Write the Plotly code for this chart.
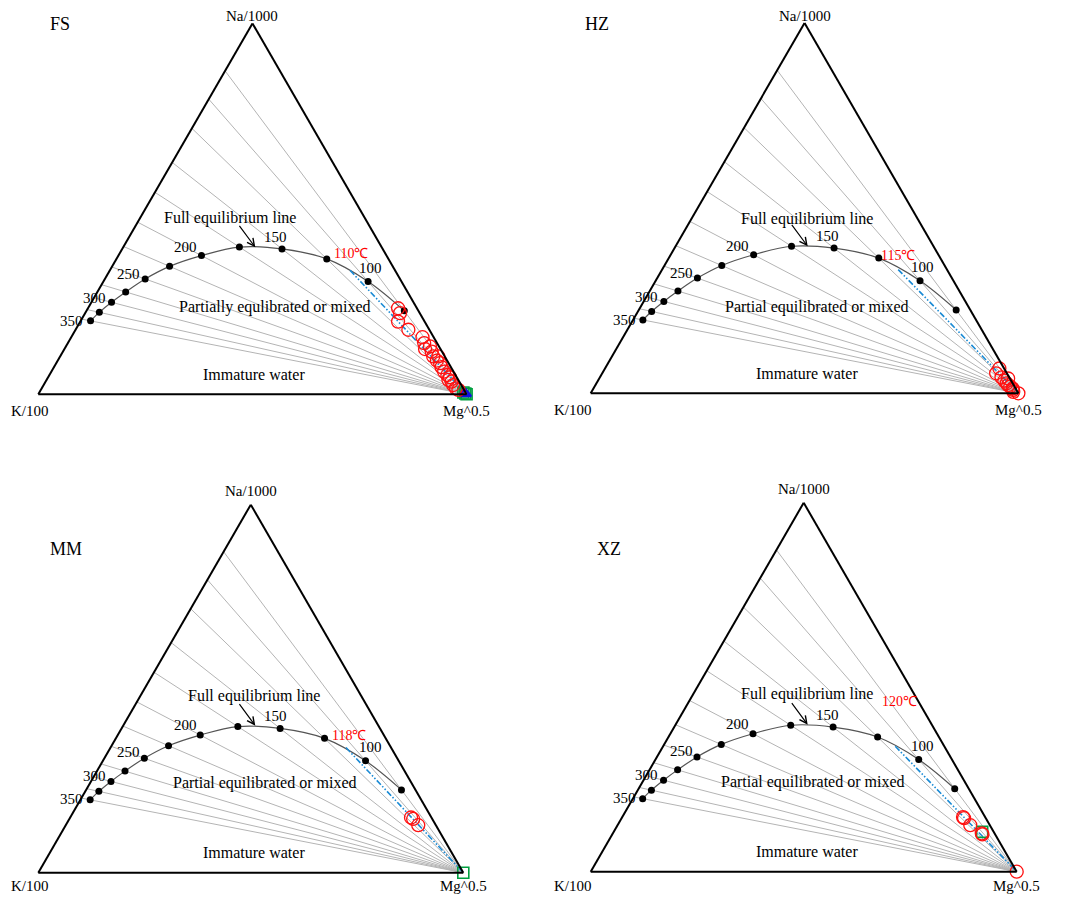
import plotly.graph_objects as go

# the page body adds an 8px margin, so the figure is drawn inside that
OFF = 8
FIG_W, FIG_H = 1065 - 2 * OFF, 904 - 2 * OFF

# full equilibrium points, % of (Na/1000, K/100, Mg^0.5)
eq_na = [19.8, 22.1, 24.8, 27.6, 31.1, 34.5, 37.4, 39.7, 39.2, 36.5, 30.4, 22.5]
eq_k = [77.9, 74.7, 70.5, 65.8, 59.5, 52.1, 43.2, 33.2, 23.5, 14.4, 7.8, 3.3]
eq_mg = [2.3, 3.2, 4.7, 6.6, 9.4, 13.4, 19.4, 27.1, 37.3, 49.1, 61.8, 74.2]
temp_ticks = ["350", "300", "250", "200", "150", "100"]

panels = ["FS", "HZ", "MM", "XZ"]
mixed_text = ["Partially equlibrated or mixed", "Partial equilibrated or mixed",
              "Partial equilibrated or mixed", "Partial equilibrated or mixed"]
temp_text = ["110℃", "115℃", "118℃", "120℃"]

# start of the mixing line on the equilibrium curve (Na, Mg)
mix_na = [33.4, 33.4, 34.0, 34.0]
mix_mg = [56.1, 55.2, 55.4, 54.5]

# samples (Na, Mg); K is the remainder
fs_na = [23.2, 21.9, 19.6, 17.4, 15.4, 13.8, 12.2, 11.5, 10.2, 9.1, 8.4, 7.3, 6.1,
         5.2, 4.6, 3.4, 2.5, 1.6, 1.2, 12.9, 10.2, 3.9]
fs_mg = [72.4, 73.5, 74.2, 77.7, 82.0, 83.2, 84.2, 86.1, 87.1, 88.5, 89.6, 90.5, 91.7,
         92.9, 93.8, 94.8, 95.6, 96.7, 97.5, 85.0, 88.3, 93.8]
fs_sq_na = [0.5, 0.2, 0.0]
fs_sq_mg = [99.0, 99.6, 100.0]
fs_tri_na = [0.4, 0.1]
fs_tri_mg = [99.3, 99.8]

hz_na = [6.7, 5.4, 4.3, 4.0, 2.7, 1.8, 0.9, 0.4, 0.0, 2.2, 1.3, 3.4]
hz_mg = [92.2, 92.1, 93.9, 95.6, 95.9, 97.2, 98.3, 98.6, 100.0, 96.5, 98.0, 95.0]

mm_na = [15.0, 14.6, 12.9]
mm_mg = [80.2, 80.9, 82.95]
mm_sq_na = [0.0]
mm_sq_mg = [100.0]

xz_na = [14.5, 14.8, 12.6, 10.1, 10.4, 0.0]
xz_mg = [80.4, 80.0, 82.8, 86.9, 86.6, 100.0]
xz_sq_na = [10.8]
xz_sq_mg = [86.5]

circles = [(fs_na, fs_mg), (hz_na, hz_mg), (mm_na, mm_mg), (xz_na, xz_mg)]
squares = [(fs_sq_na, fs_sq_mg), None, (mm_sq_na, mm_sq_mg), (xz_sq_na, xz_sq_mg)]
triangles = [(fs_tri_na, fs_tri_mg), None, None, None]

# triangle placement in window pixels: K vertex x, baseline y, side length
geom = [(38.3, 394.3, 428.3), (590.7, 393.3, 427.7),
        (38.3, 872.7, 425.0), (590.7, 871.7, 426.0)]
name_pos = [(60, 24), (596.7, 24), (65.7, 549), (609, 549)]
full_pos = [(192, -176), (216, -174), (216, -177), (216, -178)]
mixed_pos = [(236.7, -87.3), (226, -86.6), (226.7, -90), (222, -90)]
temp_pos = [(312.7, -140.3), (307.6, -138), (310.7, -137.4), (309, -170)]
tick_pos = [(33.4, -73.3), (56, -96.6), (90.4, -120.3), (147, -147.6), (237, -157), (331.7, -126)]

FONT = "Liberation Serif"


def px_x(x):
    return (x - OFF) / FIG_W


def px_y(y):
    return 1 - (y - OFF) / FIG_H


def k_of(na, mg):
    return [round(100 - a - c, 3) for a, c in zip(na, mg)]


fig = go.Figure()
annotations = []

for i, name in enumerate(panels):
    sub = "ternary" if i == 0 else "ternary%d" % (i + 1)
    x0, yb, w = geom[i]
    h = w * 3 ** 0.5 / 2

    def note(dx, dy, text, size=15, color="black", xanchor="center"):
        annotations.append(dict(
            x=px_x(x0 + dx), y=px_y(yb + dy), xref="paper", yref="paper",
            text=text, showarrow=False, xanchor=xanchor, yanchor="middle",
            font=dict(family=FONT, size=size, color=color)))

    # Na/K isotherms from the Mg corner through each equilibrium point
    ra, rb, rc = [], [], []
    for a, b in zip(eq_na, eq_k):
        ra += [0, a / (a + b) * 100, None]
        rb += [0, b / (a + b) * 100, None]
        rc += [100, 0, None]
    fig.add_trace(go.Scatterternary(a=ra, b=rb, c=rc, mode="lines", subplot=sub,
                                    line=dict(color="#b4b4b4", width=1), showlegend=False,
                                    hoverinfo="skip"))

    # full equilibrium line
    fig.add_trace(go.Scatterternary(a=eq_na, b=eq_k, c=eq_mg, mode="lines+markers", subplot=sub,
                                    line=dict(color="#555555", width=1.2, shape="spline"),
                                    marker=dict(color="black", size=7), showlegend=False,
                                    cliponaxis=False))

    # mixing line
    fig.add_trace(go.Scatterternary(a=[mix_na[i], 0], b=k_of([mix_na[i], 0], [mix_mg[i], 100]),
                                    c=[mix_mg[i], 100], mode="lines", subplot=sub,
                                    line=dict(color="#1a8ad4", width=1.6,
                                              dash="6px,2px,1.5px,2px,1.5px,2px"),
                                    showlegend=False))

    if squares[i]:
        na, mg = squares[i]
        fig.add_trace(go.Scatterternary(a=na, b=k_of(na, mg), c=mg, mode="markers", subplot=sub,
                                        marker=dict(symbol="square-open", size=11, color="#00a040",
                                                    line=dict(width=1.6)),
                                        showlegend=False, cliponaxis=False))
    if triangles[i]:
        na, mg = triangles[i]
        fig.add_trace(go.Scatterternary(a=na, b=k_of(na, mg), c=mg, mode="markers", subplot=sub,
                                        marker=dict(symbol="triangle-up-open", size=9, color="#1010e0",
                                                    line=dict(width=2)),
                                        showlegend=False, cliponaxis=False))

    na, mg = circles[i]
    fig.add_trace(go.Scatterternary(a=na, b=k_of(na, mg), c=mg, mode="markers", subplot=sub,
                                    marker=dict(symbol="circle-open", size=13, color="#ff1010",
                                                line=dict(width=1.3)),
                                    showlegend=False, cliponaxis=False))

    ax = dict(showgrid=False, showticklabels=False, ticks="", linecolor="black",
              linewidth=2, title=dict(text=""), min=0)
    fig.update_layout({sub: dict(
        sum=100, bgcolor="white",
        domain=dict(x=[px_x(x0), px_x(x0 + w)], y=[px_y(yb), px_y(yb - h)]),
        aaxis=ax, baxis=ax, caxis=ax)})

    # vertex labels, kept inside the figure area
    top_y = max(yb - h - 14, OFF + 8)
    bot_y = min(yb + 17, OFF + FIG_H - 10)
    note(w / 2, top_y - yb, "Na/1000")
    if x0 - 40 < OFF:
        note(OFF + 1 - x0, bot_y - yb, "K/100", xanchor="left")
    else:
        note(3, bot_y - yb, "K/100", xanchor="right")
    note(w, bot_y - yb, "Mg^0.5")

    for t, (dx, dy) in zip(temp_ticks, tick_pos):
        note(dx, dy, t)
    note(216, -20, "Immature water", size=16)
    note(*full_pos[i], "Full equilibrium line", size=16)
    note(*mixed_pos[i], mixed_text[i], size=16)
    note(*temp_pos[i], temp_text[i], size=14, color="#ff0000")

    # arrow to the equilibrium curve
    annotations.append(dict(
        x=px_x(x0 + 217), y=px_y(yb - 147), xref="paper", yref="paper",
        ax=-17, ay=-23, text="", showarrow=True, arrowhead=5, arrowsize=1.2,
        arrowwidth=1.2, arrowcolor="black"))

    annotations.append(dict(
        x=px_x(name_pos[i][0]), y=px_y(name_pos[i][1]), xref="paper", yref="paper",
        text=name, showarrow=False, xanchor="center", yanchor="middle",
        font=dict(family=FONT, size=18, color="black")))

fig.update_layout(width=FIG_W, height=FIG_H, margin=dict(l=0, r=0, t=0, b=0),
                  paper_bgcolor="white", plot_bgcolor="white", showlegend=False,
                  annotations=annotations, font=dict(family=FONT))

fig.write_html("out.html")
